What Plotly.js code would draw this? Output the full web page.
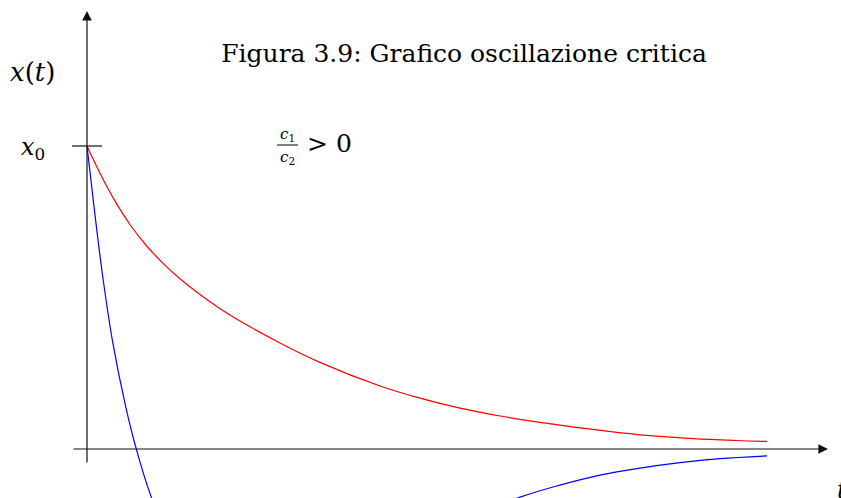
<!DOCTYPE html>
<html>
<head>
<meta charset="utf-8">
<script src="https://cdn.plot.ly/plotly-3.0.1.min.js"></script>
<style>
  html, body { margin: 0; padding: 0; background: #fff; }
  #chart { width: 841px; height: 498px; }
</style>
</head>
<body>
<div id="chart"></div>
<script>
// Critically damped oscillation: two solutions starting from x0
const tRed = [0, 0.191, 0.387, 0.632, 0.878, 1.123, 1.368, 1.662, 2.103, 2.838, 3.426,
              4.309, 4.897, 5.485, 6.074, 6.662, 7.643, 8.279, 8.912, 9.554, 10];
const xRed = [1.0, 0.910, 0.828, 0.741, 0.670, 0.612, 0.562, 0.510, 0.442, 0.350, 0.286,
              0.208, 0.168, 0.135, 0.109, 0.088, 0.059, 0.044, 0.034, 0.028, 0.025];

const tBlue = [0, 0.103, 0.225, 0.372, 0.569, 0.725, 0.951, 1.368, 2.324, 3.426, 4.603, 5.485,
               6.368, 6.956, 7.544, 8.132, 8.721, 9.309, 10];
const xBlue = [1.0, 0.800, 0.580, 0.360, 0.140, 0.0, -0.162, -0.37, -0.50, -0.43, -0.31, -0.24,
               -0.159, -0.119, -0.086, -0.063, -0.045, -0.032, -0.023];

const titleText = 'Figura 3.9: Grafico oscillazione critica';
const yLabel = '<i>x</i>(<i>t</i>)';
const x0Label = '<i>x</i><sub>0</sub>';
const tLabel = '<i>t</i>';

// page geometry (pixels) -> data coordinates
const W = 841, H = 498;
const X0PX = 87, TUNIT = 68;      // t = 0 at x = 87px, 68px per unit
const Y0PX = 449, YUNIT = 303;    // x = 0 at y = 449px, x0 = 1 at y = 146px
const dx = px => (px - X0PX) / TUNIT;
const dy = py => (Y0PX - py) / YUNIT;

const serif = '"DejaVu Serif", "Liberation Serif", serif';

const traces = [
  { x: tRed, y: xRed, mode: 'lines', line: { color: '#ff0000', width: 1.2, shape: 'spline', smoothing: 1 },
    hoverinfo: 'skip', showlegend: false },
  { x: tBlue, y: xBlue, mode: 'lines', line: { color: '#0000ff', width: 1.2, shape: 'spline', smoothing: 1 },
    hoverinfo: 'skip', showlegend: false }
];

function arrow(x1, y1, x2, y2) {
  return { x: dx(x2), y: dy(y2), ax: dx(x1), ay: dy(y1), xref: 'x', yref: 'y', axref: 'x', ayref: 'y',
           showarrow: true, arrowhead: 2, arrowsize: 1.6, arrowwidth: 1.2, arrowcolor: '#111',
           standoff: 0, startstandoff: 0, text: '' };
}
function label(text, px, py, size, anchor) {
  return { x: dx(px), y: dy(py), xref: 'x', yref: 'y', text: text, showarrow: false,
           xanchor: anchor || 'center', yanchor: 'middle', font: { family: serif, size: size, color: '#000' } };
}

const layout = {
  width: W, height: H,
  margin: { l: 0, r: 0, t: 0, b: 0 },
  paper_bgcolor: '#fff', plot_bgcolor: '#fff',
  showlegend: false,
  title: { text: titleText, x: 464 / W, y: 1 - 53 / H, xref: 'paper', yref: 'container',
           xanchor: 'center', yanchor: 'middle', font: { family: serif, size: 25, color: '#000' } },
  xaxis: { range: [dx(0), dx(W)], visible: false, fixedrange: true },
  yaxis: { range: [dy(H), dy(0)], visible: false, fixedrange: true },
  shapes: [
    // x0 tick on the vertical axis
    { type: 'line', xref: 'x', yref: 'y', x0: dx(72), x1: dx(102), y0: 1, y1: 1,
      line: { color: '#111', width: 1.2 } },
    // fraction bar of c1/c2
    { type: 'line', xref: 'x', yref: 'y', x0: dx(277), x1: dx(298), y0: dy(145), y1: dy(145),
      line: { color: '#000', width: 1 } }
  ],
  annotations: [
    arrow(72, 449, 828, 449),
    arrow(87, 464, 87, 11),
    label(yLabel, 32, 72, 26),
    label(x0Label, 33, 148, 24),
    label('<i>c</i><sub>1</sub>', 287, 134, 15),
    label('<i>c</i><sub>2</sub>', 287, 157, 15),
    label('&gt; 0', 305, 143, 25, 'left'),
    label(tLabel, 835, 490, 24, 'left')
  ]
};

Plotly.newPlot('chart', traces, layout, { staticPlot: true, displayModeBar: false });
</script>
</body>
</html>
